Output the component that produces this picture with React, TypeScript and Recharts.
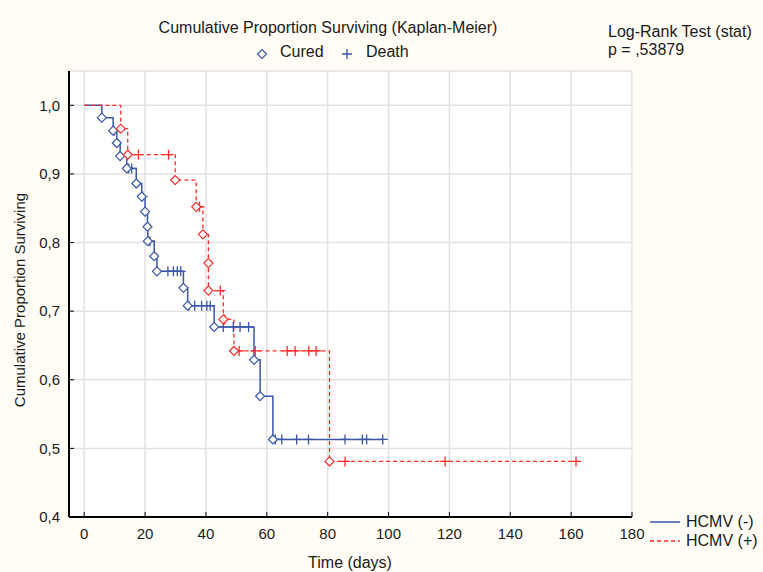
import React from 'react';
import { ComposedChart, Line, Scatter, XAxis, YAxis, CartesianGrid } from 'recharts';

// HCMV (-) : event (cured) times and survival after each drop
const negEventTimes = [5.8, 9.5, 10.7, 11.8, 14.0, 17.1, 18.9, 20.0, 20.8, 20.9, 23.0, 23.9, 32.6, 34.0, 42.7, 55.8, 57.8, 62.0];
const negEventSurv = [0.982, 0.963, 0.945, 0.926, 0.908, 0.886, 0.867, 0.845, 0.823, 0.802, 0.78, 0.758, 0.734, 0.708, 0.677, 0.629, 0.576, 0.513];
// HCMV (-) : censored (death) times
const negCensorTimes = [9.8, 14.6, 15.6, 19.2, 21.6, 27.5, 29.3, 30.6, 31.7, 34.4, 36.3, 38.6, 40.3, 41.4, 45.7, 49.0, 51.2, 54.0, 62.8, 64.9, 69.8, 73.7, 85.7, 91.4, 92.8, 98.1];

// HCMV (+)
const posEventTimes = [12.0, 14.3, 29.9, 36.8, 39.0, 40.8, 40.8, 45.7, 49.2, 80.6];
const posEventSurv = [0.966, 0.928, 0.891, 0.852, 0.812, 0.77, 0.73, 0.688, 0.642, 0.481];
const posCensorTimes = [17.8, 27.7, 37.9, 44.7, 46.2, 50.9, 56.2, 66.7, 69.3, 73.8, 76.2, 85.7, 118.6, 161.6];

const xTicks = [0, 20, 40, 60, 80, 100, 120, 140, 160, 180];
const yTicks = [0.4, 0.5, 0.6, 0.7, 0.8, 0.9, 1.0];

const BLUE = '#3a56a8';
const RED = '#ff2a2a';
const FONT = '"Liberation Sans", Arial, sans-serif';

const levelAt = (times: number[], surv: number[], t: number) => {
  let s = 1;
  times.forEach((et, i) => {
    if (et <= t) s = surv[i];
  });
  return s;
};

const buildCurve = (times: number[], surv: number[], censors: number[]) => {
  const pts = [{ t: 0, s: 1 }];
  times.forEach((t, i) => pts.push({ t, s: surv[i] }));
  const end = Math.max(...censors);
  pts.push({ t: end, s: levelAt(times, surv, end) });
  return pts;
};

const negCurve = buildCurve(negEventTimes, negEventSurv, negCensorTimes);
const posCurve = buildCurve(posEventTimes, posEventSurv, posCensorTimes);
const negCured = negEventTimes.map((t, i) => ({ t, s: negEventSurv[i] }));
const posCured = posEventTimes.map((t, i) => ({ t, s: posEventSurv[i] }));
const negDeath = negCensorTimes.map((t) => ({ t, s: levelAt(negEventTimes, negEventSurv, t) }));
const posDeath = posCensorTimes.map((t) => ({ t, s: levelAt(posEventTimes, posEventSurv, t) }));

const diamond = (color: string) => (props: any) => {
  const { cx, cy } = props;
  const r = 4.5;
  return (
    <path
      d={`M${cx},${cy - r} L${cx + r},${cy} L${cx},${cy + r} L${cx - r},${cy} Z`}
      fill="#fff"
      stroke={color}
      strokeWidth={1.2}
    />
  );
};

const plus = (color: string) => (props: any) => {
  const { cx, cy } = props;
  const r = 5;
  return <path d={`M${cx - r},${cy} H${cx + r} M${cx},${cy - r} V${cy + r}`} stroke={color} strokeWidth={1.3} fill="none" />;
};

const fmt = (v: number) => v.toFixed(1).replace('.', ',');

const txt = (left: number, cy: number, children: React.ReactNode, extra: React.CSSProperties = {}) => (
  <div
    style={{
      position: 'absolute',
      left,
      top: cy - 9,
      height: 18,
      lineHeight: '18px',
      fontSize: 16,
      fontFamily: FONT,
      color: '#1a1a1a',
      whiteSpace: 'nowrap',
      ...extra,
    }}
  >
    {children}
  </div>
);

const App: React.FC = () => {
  const tickStyle = { fill: '#1a1a1a', fontSize: 15, fontFamily: FONT };
  return (
    <div style={{ position: 'absolute', left: 0, top: 0, width: 763, height: 572, background: '#fffdf6' }}>
      <ComposedChart width={763} height={572} margin={{ top: 71, right: 131, bottom: 25, left: 19 }}>
        <CartesianGrid stroke="#e2e2e2" strokeWidth={1.5} fill="#fff" fillOpacity={1} />
        <XAxis
          dataKey="t"
          type="number"
          domain={[-5, 180]}
          ticks={xTicks}
          interval={0}
          allowDataOverflow
          height={30}
          tickSize={-5}
          tickMargin={16}
          axisLine={{ stroke: '#000', strokeWidth: 2 }}
          tickLine={{ stroke: '#000' }}
          tick={tickStyle}
        />
        <XAxis
          xAxisId="top"
          orientation="top"
          type="number"
          domain={[-5, 180]}
          ticks={xTicks}
          interval={0}
          allowDataOverflow
          height={0}
          tickSize={-5}
          tick={false}
          axisLine={{ stroke: '#000', strokeWidth: 1 }}
          tickLine={{ stroke: '#000' }}
        />
        <YAxis
          type="number"
          domain={[0.4, 1.05]}
          ticks={yTicks}
          interval={0}
          allowDataOverflow
          width={50}
          tickSize={-5}
          tickMargin={14}
          tickFormatter={fmt}
          axisLine={{ stroke: '#000', strokeWidth: 2 }}
          tickLine={{ stroke: '#000' }}
          tick={tickStyle}
        />
        <YAxis
          yAxisId="right"
          orientation="right"
          type="number"
          domain={[0.4, 1.05]}
          ticks={yTicks}
          interval={0}
          allowDataOverflow
          width={0}
          tickSize={-5}
          tick={false}
          axisLine={{ stroke: '#000', strokeWidth: 1 }}
          tickLine={{ stroke: '#000' }}
        />
        <Line data={negCurve} dataKey="s" type="stepAfter" stroke={BLUE} strokeWidth={1.5} dot={false} isAnimationActive={false} />
        <Line
          data={posCurve}
          dataKey="s"
          type="stepAfter"
          stroke={RED}
          strokeWidth={1.3}
          strokeDasharray="4 3"
          dot={false}
          isAnimationActive={false}
        />
        <Scatter data={negDeath} dataKey="s" shape={plus(BLUE)} isAnimationActive={false} />
        <Scatter data={posDeath} dataKey="s" shape={plus(RED)} isAnimationActive={false} />
        <Scatter data={negCured} dataKey="s" shape={diamond(BLUE)} isAnimationActive={false} />
        <Scatter data={posCured} dataKey="s" shape={diamond(RED)} isAnimationActive={false} />
      </ComposedChart>

      {txt(128, 28, 'Cumulative Proportion Surviving (Kaplan-Meier)', { width: 400, textAlign: 'center' })}
      <div style={{ position: 'absolute', left: 256, top: 46 }}>
        <svg width={12} height={12}>
          <path d="M6,1.5 L10.5,6 L6,10.5 L1.5,6 Z" fill="none" stroke={BLUE} strokeWidth={1.2} />
        </svg>
      </div>
      {txt(280, 52, 'Cured')}
      <div style={{ position: 'absolute', left: 341, top: 46 }}>
        <svg width={12} height={12}>
          <path d="M1,6 H11 M6,1 V11" stroke={BLUE} strokeWidth={1.3} />
        </svg>
      </div>
      {txt(366, 52, 'Death')}
      {txt(608, 32, 'Log-Rank Test (stat)')}
      {txt(608, 50, 'p = ,53879')}
      {txt(250, 563, 'Time (days)', { width: 200, textAlign: 'center' })}
      {txt(-130, 300, 'Cumulative Proportion Surviving', { width: 300, textAlign: 'center', transform: 'rotate(-90deg)', fontSize: 15 })}

      <svg style={{ position: 'absolute', left: 648, top: 512 }} width={36} height={40}>
        <line x1={2} y1={10} x2={32} y2={10} stroke={BLUE} strokeWidth={1.5} />
        <line x1={2} y1={29} x2={32} y2={29} stroke={RED} strokeWidth={1.3} strokeDasharray="4 3" />
      </svg>
      {txt(686, 522, 'HCMV (-)')}
      {txt(686, 541, 'HCMV (+)')}
    </div>
  );
};

export default App;
